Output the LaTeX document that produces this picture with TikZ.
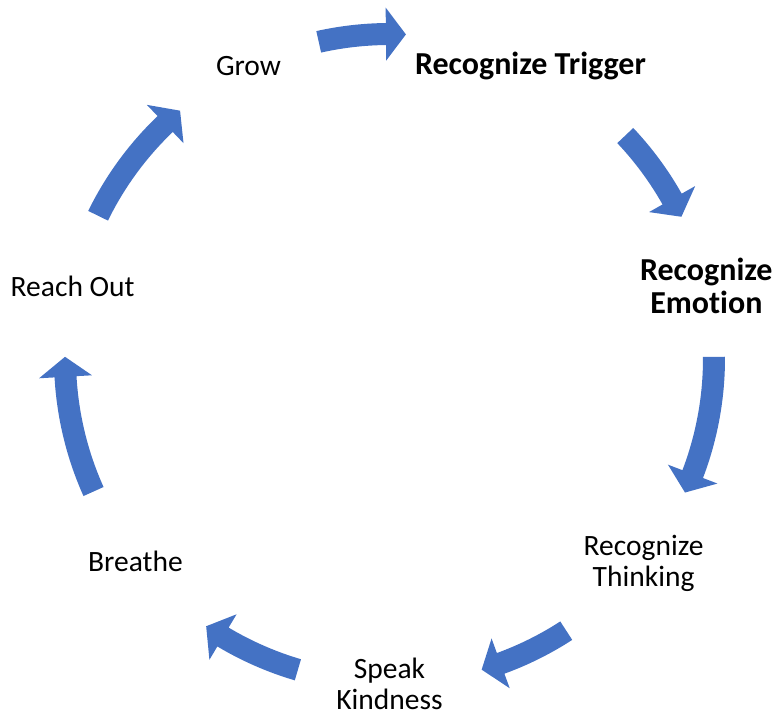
\documentclass[tikz,border=0pt]{standalone}
\usepackage{fontspec}
\setmainfont[Ligatures=NoCommon]{Carlito}
\definecolor{cycleblue}{HTML}{4472C4}
\begin{document}
\begin{tikzpicture}[x=1pt,y=1pt,
  cyctext/.style={font=\fontsize{29.5}{31}\selectfont, align=center, text=black, inner sep=0pt},
  cyckey/.style={cyctext, font=\fontsize{32}{33}\selectfont\bfseries},
  cycarrow/.style={fill=cycleblue, draw=none}
]
\useasboundingbox (-389.5,-359.5) rectangle (388.5,358.5);

% steps placed around a circle, clockwise from the top right
\node[cyckey]  (trigger)  at (64.29:325)  {Recognize Trigger};
\node[cyckey]  (emotion)  at (12.86:325)  {Recognize\\Emotion};
\node[cyctext] (thinking) at ([yshift=-2]-38.57:325) {Recognize\\Thinking};
\node[cyctext] (speak)    at (-90:325)    {Speak\\Kindness};
\node[cyctext] (breathe)  at (-141.43:325) {Breathe};
\node[cyctext] (reach)    at (167.14:325) {Reach Out};
\node[cyctext] (grow)     at (115.71:325) {Grow};

% curved block arrows: tail angle / tip angle on the ring
\foreach \t/\h in {102.6/87.1, 43.4/25.9, 0.3/-24.4, -57/-73.5, 253.6/235.6, 204.2/179.7, 153.9/130.2} {
  \pgfmathsetmacro\b{\h+3.53}
  \path[cycarrow] (\t:335.5) arc[start angle=\t, end angle=\b, radius=335.5]
    -- (\b:351) -- (\h:324.5) -- (\b:298) -- (\b:313.5)
    arc[start angle=\b, end angle=\t, radius=313.5] -- cycle;
}
\end{tikzpicture}
\end{document}
